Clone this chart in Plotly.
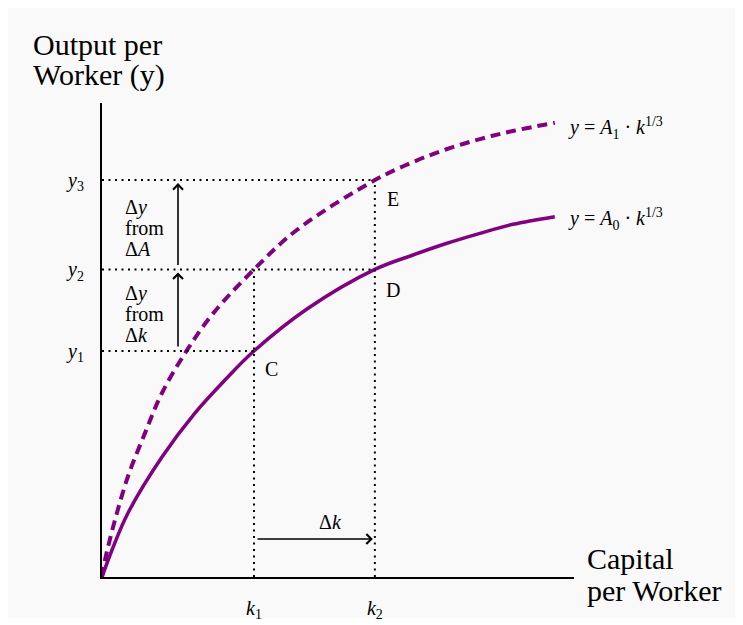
import plotly.graph_objects as go

# =============================================================================
# Data (axis units)
# =============================================================================
k_solid = [0, 2.22, 5.76, 13.3, 20.6, 27.27, 33.7, 45.45, 60.5, 68.96, 76.5, 83.8, 91.1, 100.4]
y_solid = [0, 5.99, 14.19, 26.61, 36.36, 43.68, 50.1, 59.42, 68.2, 71.4, 74.0, 76.2, 78.2, 79.9]

k_dashed = [0, 0.67, 2.88, 5.76, 9.53, 13.3, 18.85, 24.6, 33.7, 43.2, 60.5, 68.96, 76.5, 83.8, 91.1, 100.4]
y_dashed = [0, 3.77, 12.64, 22.3, 31.9, 40.8, 50.3, 58.4, 68.2, 76.94, 88.0, 92.0, 94.9, 97.1, 98.9, 100.7]

k1, k2 = 33.7, 60.5
y1, y2, y3 = 50.1, 68.2, 88.0

k_ticks = [k1, k2]
k_labels = ["<i>k</i><sub>1</sub>", "<i>k</i><sub>2</sub>"]
y_ticks = [y1, y2, y3]
y_labels = ["<i>y</i><sub>1</sub>", "<i>y</i><sub>2</sub>", "<i>y</i><sub>3</sub>"]

# =============================================================================
# Layout helpers (screen pixel -> axis / paper units)
# =============================================================================
W, H = 743, 625
OFFSET = 8             # page body margin
ORIGIN_X, ORIGIN_Y = 102, 577
TOP_Y, RIGHT_X = 103, 574
SCALE = 4.51           # px per axis unit
L = ORIGIN_X - OFFSET
T = TOP_Y - OFFSET
B = H - (ORIGIN_Y - OFFSET)
R = W - (RIGHT_X - OFFSET)
XMAX = (RIGHT_X - ORIGIN_X) / SCALE
YMAX = (ORIGIN_Y - TOP_Y) / SCALE


def ax_x(px):
    return (px - ORIGIN_X) / SCALE


def ax_y(py):
    return (ORIGIN_Y - py) / SCALE


def pap_x(px):
    return (px - ORIGIN_X) / (RIGHT_X - ORIGIN_X)


def pap_y(py):
    return (ORIGIN_Y - py) / (ORIGIN_Y - TOP_Y)


FONT = "Liberation Serif"
PURPLE = "#800080"

fig = go.Figure()

fig.add_trace(go.Scatter(x=k_dashed, y=y_dashed, mode="lines",
                         line=dict(color=PURPLE, width=4, dash="10px,6px", shape="spline", smoothing=1.0),
                         cliponaxis=False, hoverinfo="skip"))
fig.add_trace(go.Scatter(x=k_solid, y=y_solid, mode="lines",
                         line=dict(color=PURPLE, width=3.5, shape="spline", smoothing=1.0),
                         cliponaxis=False, hoverinfo="skip"))

dot = dict(color="black", width=2, dash="2px,4.5px")
shapes = [
    # gray panel
    dict(type="rect", xref="paper", yref="paper", x0=pap_x(7), x1=pap_x(737),
         y0=pap_y(618), y1=pap_y(8), fillcolor="#f9f9f9", line=dict(width=0), layer="below"),
    dict(type="line", x0=0, x1=k2, y0=y3, y1=y3, line=dot),
    dict(type="line", x0=0, x1=k2, y0=y2, y1=y2, line=dot),
    dict(type="line", x0=0, x1=k1, y0=y1, y1=y1, line=dot),
    dict(type="line", x0=k1, x1=k1, y0=0, y1=y2, line=dot),
    dict(type="line", x0=k2, x1=k2, y0=0, y1=y3, line=dot),
]

small = dict(family=FONT, size=20, color="black")
big = dict(family=FONT, size=30, color="black")
ann = []


def txt(x, y, s, font=small, xanchor="center", yanchor="middle"):
    ann.append(dict(x=x, y=y, xref="x", yref="y", text=s, showarrow=False,
                    font=font, xanchor=xanchor, yanchor=yanchor))


def ptxt(px, py, s, font=big, xanchor="left"):
    ann.append(dict(x=pap_x(px), y=pap_y(py), xref="paper", yref="paper", text=s,
                    showarrow=False, font=font, xanchor=xanchor, yanchor="middle"))


# axis titles (one line each for tight spacing)
ptxt(31, 45, "Output per")
ptxt(31, 75, "Worker (y)")
ptxt(585, 558, "Capital")
ptxt(585, 590, "per Worker")

# curve labels
ptxt(566, 128, "<i>y</i> = <i>A</i><sub>1</sub> · <i>k</i><sup>1/3</sup>", small)
ptxt(566, 219, "<i>y</i> = <i>A</i><sub>0</sub> · <i>k</i><sup>1/3</sup>", small)

# points
txt(ax_x(393), ax_y(199), "E")
txt(ax_x(393), ax_y(290), "D")
txt(ax_x(271), ax_y(369), "C")

# delta labels
for i, s in enumerate(["Δ<i>y</i>", "from", "Δ<i>A</i>"]):
    txt(ax_x(123), ax_y(207 + 21 * i), s, small, "left")
for i, s in enumerate(["Δ<i>y</i>", "from", "Δ<i>k</i>"]):
    txt(ax_x(123), ax_y(293 + 21 * i), s, small, "left")
txt(ax_x(330), ax_y(522), "Δ<i>k</i>")

# arrows
arrow = dict(xref="x", yref="y", axref="x", ayref="y", showarrow=True, text="",
             arrowhead=4, arrowsize=1.2, arrowwidth=1.6, arrowcolor="black")
xa = ax_x(178)
ann.append(dict(arrow, x=xa, y=y2, ax=xa, ay=y1, standoff=3, startstandoff=3))
ann.append(dict(arrow, x=xa, y=y3, ax=xa, ay=y2, standoff=3, startstandoff=3))
ya = ax_y(539)
ann.append(dict(arrow, x=k2, y=ya, ax=k1, ay=ya, standoff=2, startstandoff=2))

fig.update_layout(
    width=W, height=H,
    margin=dict(l=L, r=R, t=T, b=B, autoexpand=False),
    paper_bgcolor="white", plot_bgcolor="rgba(0,0,0,0)",
    showlegend=False,
    shapes=shapes, annotations=ann,
    font=dict(family=FONT, size=20, color="black"),
)
fig.update_xaxes(range=[0, XMAX], showgrid=False, zeroline=False, showline=True,
                 linecolor="black", linewidth=2, ticks="", tickvals=k_ticks, ticktext=k_labels,
                 ticklabelstandoff=12, tickfont=small, fixedrange=True, automargin=False)
fig.update_yaxes(range=[0, YMAX], showgrid=False, zeroline=False, showline=True,
                 linecolor="black", linewidth=2, ticks="", tickvals=y_ticks, ticktext=y_labels,
                 ticklabelstandoff=12, tickfont=small, fixedrange=True, automargin=False)

fig.write_html("out.html")
